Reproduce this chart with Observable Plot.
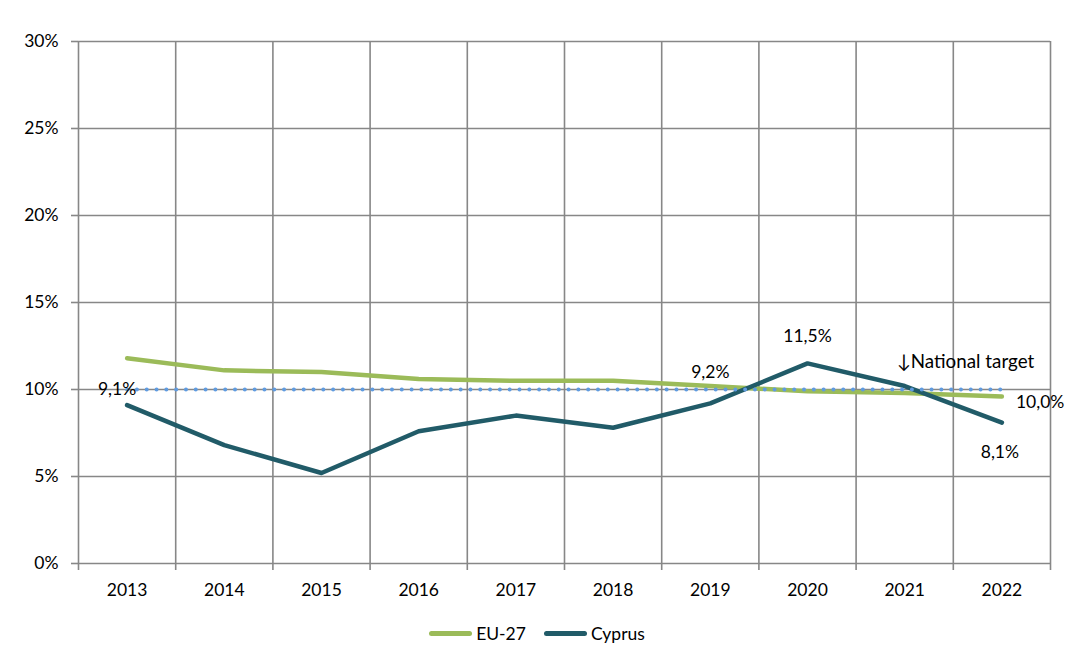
<!DOCTYPE html>
<html>
<head>
<meta charset="utf-8">
<script src="https://cdn.jsdelivr.net/npm/d3@7"></script>
<script src="https://cdn.jsdelivr.net/npm/@observablehq/plot@0.6"></script>
<style>
  html, body { margin: 0; padding: 0; background: #fff; }
  body { width: 1074px; height: 667px; font-family: Lato, "Open Sans", sans-serif; }
  #legend { display: flex; justify-content: center; align-items: center; height: 46px; font-size: 17.5px; color: #000; padding-left: 0px; }
  .item { display: flex; align-items: center; margin: 0 9px; }
  .sw { width: 43px; height: 5px; border-radius: 3px; margin-right: 4px; }
</style>
</head>
<body>
<div id="chart"></div>
<div id="legend"></div>
<script>
const years = [2013, 2014, 2015, 2016, 2017, 2018, 2019, 2020, 2021, 2022];
const eu27 = [11.8, 11.1, 11.0, 10.6, 10.5, 10.5, 10.2, 9.9, 9.8, 9.6];
const cyprus = [9.1, 6.8, 5.2, 7.6, 8.5, 7.8, 9.2, 11.5, 10.2, 8.1];
const nationalTarget = 10;
const yTicks = [0, 5, 10, 15, 20, 25, 30];
const seriesNames = ["EU-27", "Cyprus"];
const seriesColors = ["#9BBB59", "#215B68"];
const targetColor = "#5F9BE0";
const gridColor = "#878787";

const boundaries = [...years.map(y => y - 0.5), years[years.length - 1] + 0.5];
const euData = years.map((y, i) => ({year: y, value: eu27[i]}));
const cyData = years.map((y, i) => ({year: y, value: cyprus[i]}));
const targetData = years.map(y => ({year: y, value: nationalTarget}));
const fmt = v => v.toFixed(1).replace(".", ",") + "%";

const labels = [
  {year: 2013, value: cyprus[0], text: fmt(cyprus[0]), dx: -10, dy: -16, anchor: "middle", size: 17.5},
  {year: 2019, value: cyprus[6], text: fmt(cyprus[6]), dx: 0, dy: -31, anchor: "middle", size: 17.5},
  {year: 2020, value: cyprus[7], text: fmt(cyprus[7]), dx: 0, dy: -27, anchor: "middle", size: 17.5},
  {year: 2022, value: cyprus[9], text: fmt(cyprus[9]), dx: -2, dy: 30, anchor: "middle", size: 17.5},
  {year: 2022, value: nationalTarget, text: fmt(nationalTarget), dx: 14, dy: 13, anchor: "start", size: 17.5},
  {year: 2021, value: nationalTarget, text: "↓National target", dx: -8, dy: -28, anchor: "start", size: 18.8}
];

const plot = Plot.plot({
  width: 1074,
  height: 610,
  marginTop: 41,
  marginBottom: 47,
  marginLeft: 78,
  marginRight: 24,
  style: {fontFamily: "Lato, 'Open Sans', sans-serif", fontSize: "17.5px", color: "#000", background: "#fff"},
  x: {type: "linear", domain: [boundaries[0], boundaries[boundaries.length - 1]]},
  y: {domain: [0, 30]},
  marks: [
    Plot.ruleY(yTicks, {y: d => d, stroke: gridColor, strokeWidth: 1.6}),
    Plot.ruleX(boundaries, {x: d => d, stroke: gridColor, strokeWidth: 1.6}),
    Plot.axisY(yTicks, {tickSize: 7, tickPadding: 13, tickFormat: d => d + "%", stroke: gridColor, strokeWidth: 1.6, fontSize: 17.5, fill: "#000", label: null}),
    Plot.axisX(boundaries, {tickSize: 7, tickFormat: () => "", stroke: gridColor, strokeWidth: 1.6, label: null}),
    Plot.axisX(years, {tickSize: 0, tickPadding: 20, tickFormat: d => String(d), fontSize: 17.5, fill: "#000", label: null}),
    Plot.lineY(euData, {x: "year", y: "value", stroke: seriesColors[0], strokeWidth: 4.5, strokeLinecap: "round"}),
    Plot.lineY(cyData, {x: "year", y: "value", stroke: seriesColors[1], strokeWidth: 4.5, strokeLinecap: "round"}),
    Plot.lineY(targetData, {x: "year", y: "value", stroke: targetColor, strokeWidth: 4, strokeLinecap: "round", strokeDasharray: "0.01 9.8"}),
    ...labels.map(l => Plot.text([l], {x: "year", y: "value", text: "text", dx: l.dx, dy: l.dy, textAnchor: l.anchor, fontSize: l.size, fill: "#000"}))
  ]
});
document.getElementById("chart").appendChild(plot);

const legend = document.getElementById("legend");
seriesNames.forEach((name, i) => {
  const item = document.createElement("div");
  item.className = "item";
  const sw = document.createElement("div");
  sw.className = "sw";
  sw.style.background = seriesColors[i];
  const t = document.createElement("span");
  t.textContent = name;
  item.appendChild(sw);
  item.appendChild(t);
  legend.appendChild(item);
});
</script>
</body>
</html>
